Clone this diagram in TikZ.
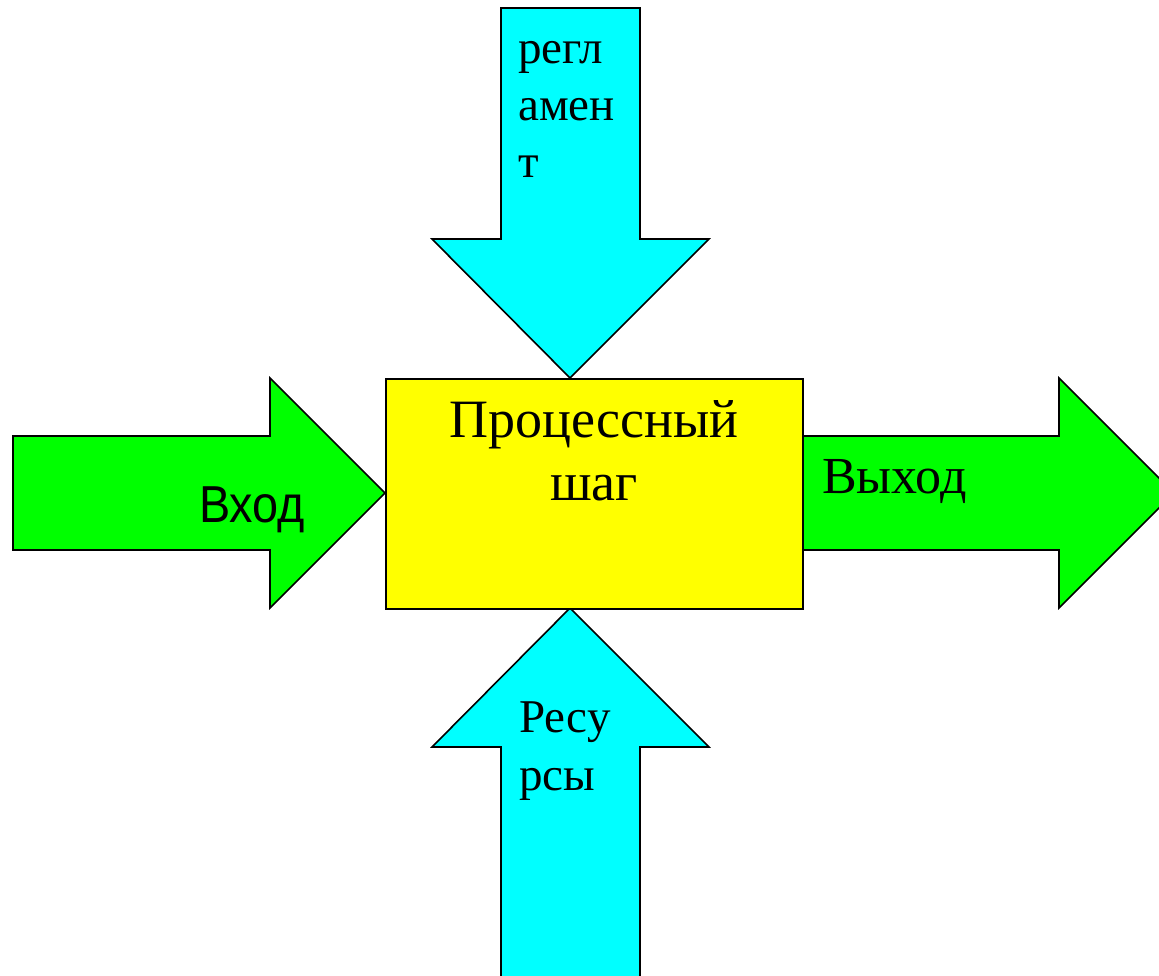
\documentclass[tikz,border=0pt]{standalone}
\usepackage{fontspec}
\setmainfont{Liberation Serif}
\newfontfamily\arialfont{Liberation Sans}
\definecolor{aqua}{RGB}{0,255,255}
\definecolor{lime}{RGB}{0,255,0}
\definecolor{yel}{RGB}{255,255,0}
\tikzset{
  shp/.style={draw=black, line width=1.6pt, line join=miter},
  lbl/.style={inner sep=0pt, anchor=base west, text=black},
}
\begin{document}
\begin{tikzpicture}[x=1pt,y=-1pt]
\useasboundingbox (0,0) rectangle (1159,975);
\clip (0,0) rectangle (1159,975);
\fill[white] (0,0) rectangle (1159,975);
% top arrow (reglament)
\draw[shp, fill=aqua] (501,8) -- (640,8) -- (640,239) -- (709,239) -- (570,378) -- (432,239) -- (501,239) -- cycle;
% bottom arrow (resources)
\draw[shp, fill=aqua] (501,990) -- (640,990) -- (640,747) -- (709,747) -- (570,608) -- (432,747) -- (501,747) -- cycle;
% left arrow (input)
\draw[shp, fill=lime] (13,436) -- (270,436) -- (270,378) -- (385,493) -- (270,608) -- (270,550) -- (13,550) -- cycle;
% right arrow (output)
\draw[shp, fill=lime] (802,436) -- (1059,436) -- (1059,378) -- (1174,493) -- (1059,608) -- (1059,550) -- (802,550) -- cycle;
% process box
\node[shp, fill=yel, minimum width=417pt, minimum height=230pt, inner sep=0pt, anchor=north west] (box) at (385,378) {};
% labels
\node[lbl, anchor=base] (proc) at (594,437) {\fontsize{54}{63}\selectfont\begin{tabular}[t]{@{}c@{}}Процессный\\шаг\end{tabular}};
\node[lbl] (regl) at (518,63) {\fontsize{47}{57}\selectfont\begin{tabular}[t]{@{}l@{}}регл\\амен\\т\end{tabular}};
\node[lbl] (res) at (519,732) {\fontsize{47}{58}\selectfont\begin{tabular}[t]{@{}l@{}}Ресу\\рсы\end{tabular}};
\node[lbl] (out) at (822,493) {\fontsize{52}{60}\selectfont Выход};
\node[lbl, xscale=0.9] (in) at (199,522) {\arialfont\fontsize{52}{60}\selectfont Вход};
\end{tikzpicture}
\end{document}
